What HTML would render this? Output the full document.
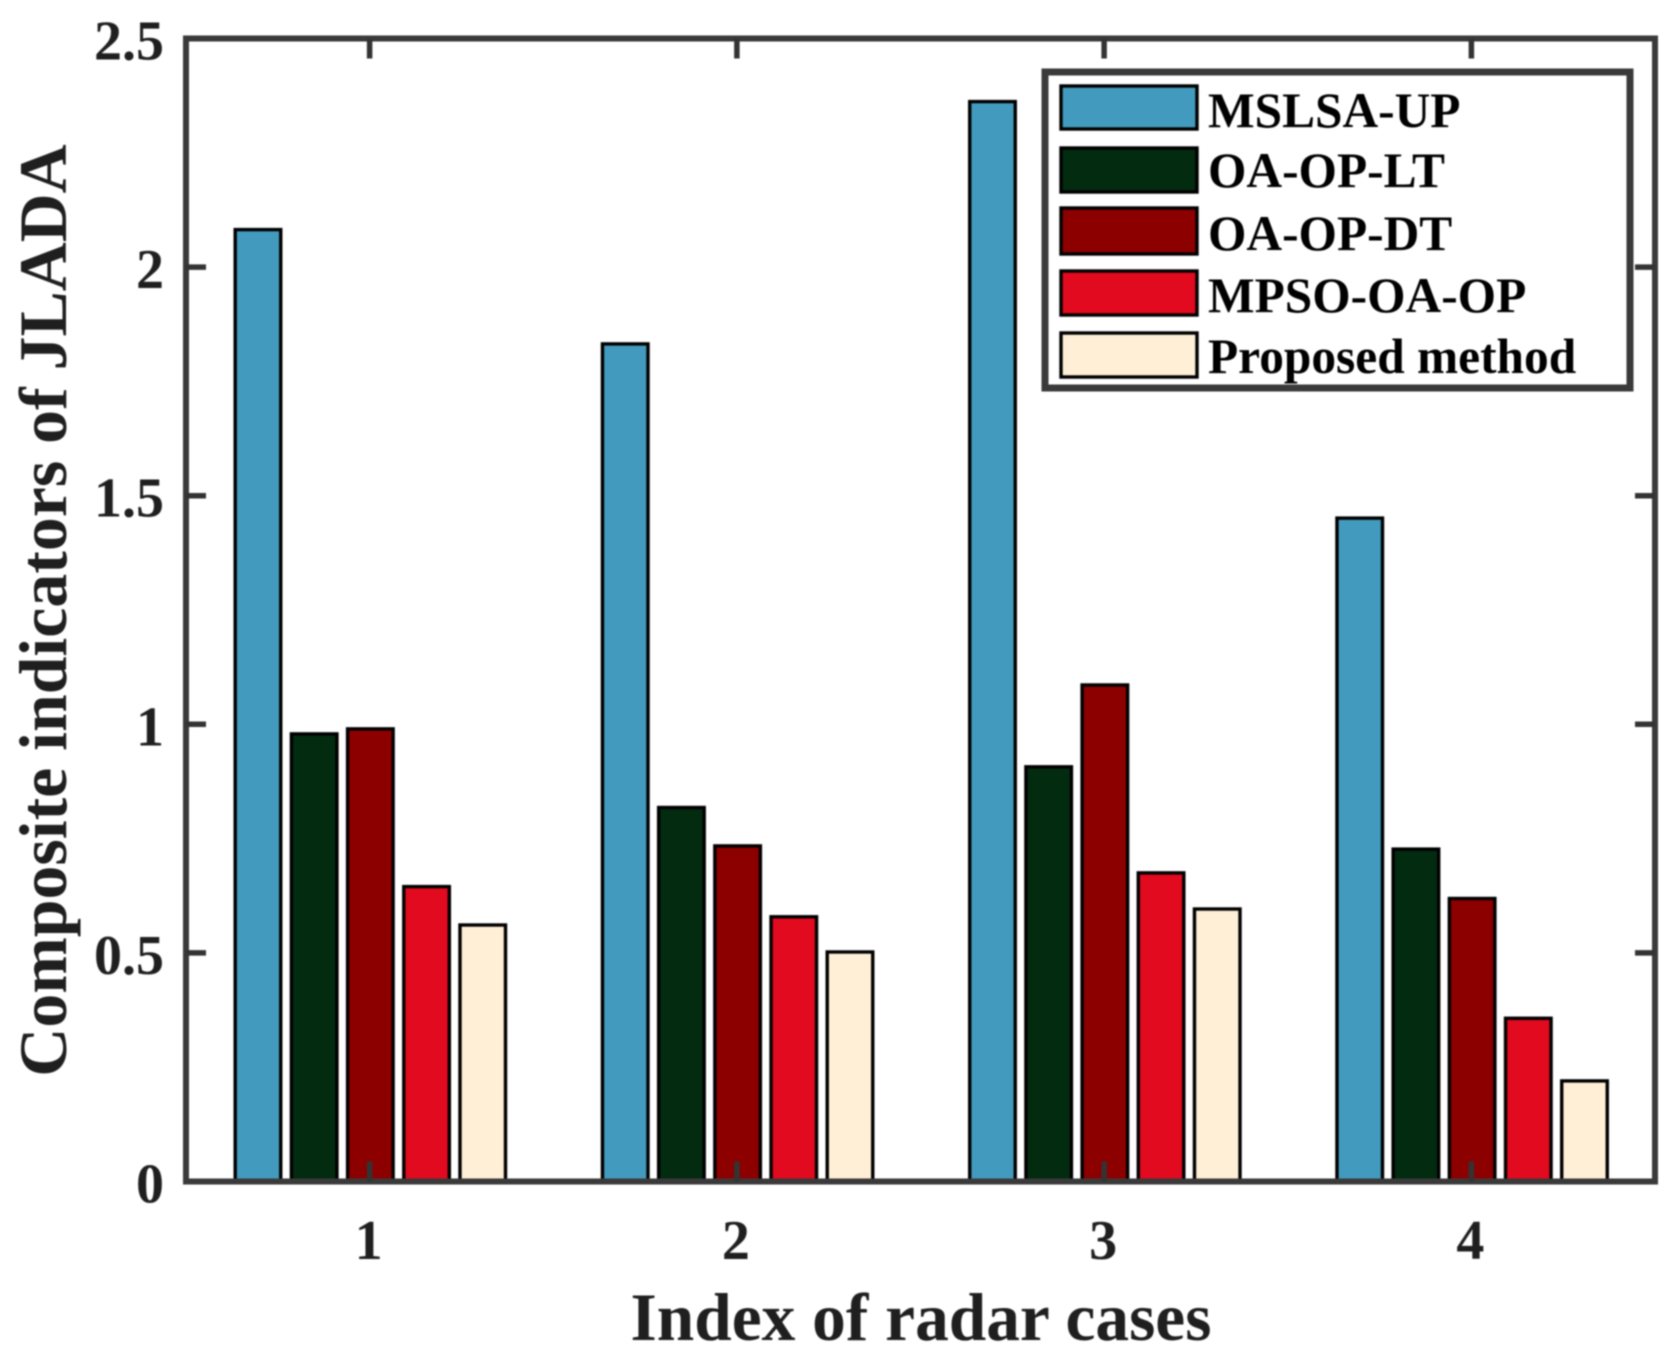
<!DOCTYPE html>
<html lang="en">
<head>
<meta charset="utf-8">
<title>Composite indicators of JLADA</title>
<style>
html,body{margin:0;padding:0;background:#fff;}
#chart{display:block;width:1675px;height:1354px;filter:blur(0.7px);}
text{font-family:"Liberation Serif",serif;font-weight:bold;fill:#1f1f1f;}
.tick-label{font-size:56px;}
.x-title{font-size:67.4px;}
.y-title{font-size:67.8px;}
.legend-text{font-size:49.4px;fill:#000;}
.bar,.swatch{stroke:#000;stroke-width:3.4;}
.s0{fill:#429BBE;}
.s1{fill:#022B10;}
.s2{fill:#8C0000;}
.s3{fill:#E10A1E;}
.s4{fill:#FFEFD7;}
.frame{fill:none;stroke:#3a3a3a;stroke-width:6;}
.tick{stroke:#333;stroke-width:5.5;}
</style>
</head>
<body>
<svg id="chart" xmlns="http://www.w3.org/2000/svg" width="1675" height="1354" viewBox="0 0 1675 1354">
  <rect x="0" y="0" width="1675" height="1354" fill="#fff"/>
  <g id="bars"></g>
  <rect id="plot-frame" class="frame"/>
  <g id="ticks"></g>
  <g id="tick-labels"></g>
  <text class="x-title" x="921" y="1340" text-anchor="middle">Index of radar cases</text>
  <text class="y-title" transform="translate(66,610.5) rotate(-90)" text-anchor="middle">Composite indicators of JLADA</text>
  <g>
    <rect x="1045" y="72" width="585" height="316" fill="#fff" stroke="#3a3a3a" stroke-width="7"/>
    <rect class="swatch s0" x="1061" y="86" width="136" height="43"/>
    <text class="legend-text" x="1208" y="127">MSLSA-UP</text>
    <rect class="swatch s1" x="1061" y="148" width="136" height="44"/>
    <text class="legend-text" x="1208" y="187">OA-OP-LT</text>
    <rect class="swatch s2" x="1061" y="208" width="136" height="46"/>
    <text class="legend-text" x="1208" y="250">OA-OP-DT</text>
    <rect class="swatch s3" x="1061" y="271" width="136" height="44"/>
    <text class="legend-text" x="1208" y="312">MPSO-OA-OP</text>
    <rect class="swatch s4" x="1061" y="333" width="136" height="44"/>
    <text class="legend-text" x="1208" y="373">Proposed method</text>
  </g>
</svg>
<script>
const categories = [1, 2, 3, 4];
const mslsaUp = [2.082, 1.832, 2.362, 1.451];
const oaOpLt = [0.979, 0.818, 0.907, 0.727];
const oaOpDt = [0.990, 0.734, 1.086, 0.619];
const mpsoOaOp = [0.645, 0.579, 0.675, 0.357];
const proposedMethod = [0.561, 0.502, 0.596, 0.220];
const yTickValues = [0, 0.5, 1, 1.5, 2, 2.5];
const yTickLabels = ['0', '0.5', '1', '1.5', '2', '2.5'];
const xTickLabels = ['1', '2', '3', '4'];

const NS = 'http://www.w3.org/2000/svg';
const plot = { left: 186, right: 1655, top: 38.5, bottom: 1181.5 };
const xMin = 0.5, xMax = 4.5, yMin = 0, yMax = 2.5;
const xScale = v => plot.left + (v - xMin) / (xMax - xMin) * (plot.right - plot.left);
const yScale = v => plot.bottom - (v - yMin) / (yMax - yMin) * (plot.bottom - plot.top);

const seriesList = [
  { key: 'mslsa-up', values: mslsaUp },
  { key: 'oa-op-lt', values: oaOpLt },
  { key: 'oa-op-dt', values: oaOpDt },
  { key: 'mpso-oa-op', values: mpsoOaOp },
  { key: 'proposed-method', values: proposedMethod }
];
const barStep = 0.153;
const barWidth = 0.124;
const groupShift = 0.002;

const frame = document.getElementById('plot-frame');
frame.setAttribute('x', plot.left);
frame.setAttribute('y', plot.top);
frame.setAttribute('width', plot.right - plot.left);
frame.setAttribute('height', plot.bottom - plot.top);

const barsGroup = document.getElementById('bars');
seriesList.forEach((series, s) => {
  series.values.forEach((value, c) => {
    const center = categories[c] + groupShift + (s - 2) * barStep;
    const x0 = xScale(center - barWidth / 2);
    const x1 = xScale(center + barWidth / 2);
    const bar = document.createElementNS(NS, 'rect');
    
    
    bar.setAttribute('class', 'bar s' + s);
    bar.setAttribute('x', x0);
    bar.setAttribute('y', yScale(value));
    bar.setAttribute('width', x1 - x0);
    bar.setAttribute('height', yScale(0) - yScale(value));
    barsGroup.appendChild(bar);
  });
});

const tickLength = 20;
const ticksGroup = document.getElementById('ticks');
const labelsGroup = document.getElementById('tick-labels');

function addTick(x1, y1, x2, y2, name) {
  const line = document.createElementNS(NS, 'line');
  
  
  line.setAttribute('class', 'tick');
  line.setAttribute('x1', x1);
  line.setAttribute('y1', y1);
  line.setAttribute('x2', x2);
  line.setAttribute('y2', y2);
  ticksGroup.appendChild(line);
}

function addLabel(x, y, anchor, content, name) {
  const label = document.createElementNS(NS, 'text');
  
  
  label.setAttribute('class', 'tick-label');
  label.setAttribute('x', x);
  label.setAttribute('y', y);
  label.setAttribute('text-anchor', anchor);
  label.textContent = content;
  labelsGroup.appendChild(label);
}

categories.forEach((cat, i) => {
  const x = xScale(cat);
  addTick(x, plot.bottom, x, plot.bottom - tickLength, 'x-tick-bottom-' + cat);
  addTick(x, plot.top, x, plot.top + tickLength, 'x-tick-top-' + cat);
  addLabel(x - 1, 1259, 'middle', xTickLabels[i], 'x-tick-label-' + cat);
});

yTickValues.forEach((val, i) => {
  const y = yScale(val);
  if (val > yMin && val < yMax) {
    addTick(plot.left, y, plot.left + tickLength, y, 'y-tick-left-' + yTickLabels[i]);
    addTick(plot.right, y, plot.right - tickLength, y, 'y-tick-right-' + yTickLabels[i]);
  }
  addLabel(164, y + 21, 'end', yTickLabels[i], 'y-tick-label-' + yTickLabels[i]);
});
</script>
</body>
</html>
